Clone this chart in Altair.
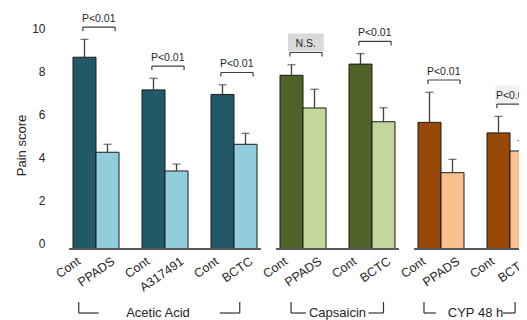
import altair as alt
import pandas as pd

# ---------------- values ----------------
groups = ["Acetic Acid", "Capsaicin", "CYP 48 h"]
pair_group = ["Acetic Acid", "Acetic Acid", "Acetic Acid",
              "Capsaicin", "Capsaicin", "CYP 48 h", "CYP 48 h"]
treatments = ["PPADS", "A317491", "BCTC", "PPADS", "BCTC", "PPADS", "BCTC"]
control_label = "Cont"
ctrl_mean = [8.92, 7.40, 7.19, 8.08, 8.60, 5.89, 5.40]
ctrl_err = [0.83, 0.54, 0.45, 0.49, 0.49, 1.40, 0.77]
trt_mean = [4.50, 3.63, 4.87, 6.56, 5.92, 3.55, 4.56]
trt_err = [0.37, 0.32, 0.51, 0.87, 0.65, 0.62, 0.48]
significance = ["P<0.01", "P<0.01", "P<0.01", "N.S.", "P<0.01", "P<0.01", "P<0.01"]
label_box = ["none", "none", "none", "dark", "none", "none", "light"]
y_ticks = [0, 2, 4, 6, 8, 10]
y_title = "Pain score"

# ---------------- styling / layout ----------------
palette = {"Acetic Acid": ("#215968", "#92CDDC"),
           "Capsaicin": ("#4F6228", "#C3D69B"),
           "CYP 48 h": ("#984807", "#FAC090")}
# group-label bracket: (left band position, right band position, segment length, text shift)
group_style = {"Acetic Acid": (0.25, 0.25, 20, -7),
               "Capsaicin": (0.48, 0.5, 15, 0),
               "CYP 48 h": (0.26, 0.22, 12, 0)}
SLOT = 23
FONT = "Liberation Sans"
INK = "#262626"
LINE = "#404040"

# ---------------- build tables ----------------
slots, bar_rows, pair_rows, group_info = [], [], [], []
for g in groups:
    lead = f"gap{len(slots)}"
    slots.append(lead)
    members = [i for i, pg in enumerate(pair_group) if pg == g]
    gslots = []
    for k, i in enumerate(members):
        if k:
            s = f"gap{len(slots)}"
            slots.append(s)
            gslots.append(s)
        c, t = f"c{i}", f"t{i}"
        slots += [c, t]
        gslots += [c, t]
        ctop = ctrl_mean[i] + ctrl_err[i]
        ttop = trt_mean[i] + trt_err[i]
        bar_rows.append(dict(slot=c, key=f"{g}|ctrl", role="ctrl",
                             mean=ctrl_mean[i], top=ctop, label=control_label))
        bar_rows.append(dict(slot=t, key=f"{g}|trt", role="trt",
                             mean=trt_mean[i], top=ttop, label=treatments[i]))
        lvl = max(ctop, ttop) + 0.57
        pair_rows.append(dict(cslot=c, tslot=t, level=lvl, tick=lvl - 0.19,
                              box_lo=lvl + 0.05, box_hi=lvl + 0.88,
                              sig=significance[i], box=label_box[i]))
    group_info.append((g, lead, gslots))
slots.append("gap_end")

base_rows = []
for g, lead, gslots in group_info:
    nxt = slots[slots.index(gslots[-1]) + 1]
    base_rows.append(dict(start=lead, end=nxt, zero=0))

bars_df = pd.DataFrame(bar_rows)
pairs_df = pd.DataFrame(pair_rows)
base_df = pd.DataFrame(base_rows)

keys, cols = [], []
for g in groups:
    keys += [f"{g}|ctrl", f"{g}|trt"]
    cols += list(palette[g])

xs = alt.Scale(domain=slots, range=[0, SLOT * len(slots)], paddingInner=0, paddingOuter=0)
ys = alt.Scale(domain=[0, 10], nice=False)

yaxis = alt.Axis(values=y_ticks, domain=False, ticks=False, grid=False,
                 labelFontSize=12, labelColor=INK, labelPadding=5, labelOffset=-5.5,
                 title=y_title, titleFontSize=13, titleFontWeight="normal", titleColor=INK,
                 titleAngle=270, titleX=-25, titleY=111, titleAlign="center",
                 titleBaseline="alphabetic")


def X(field, bp=None):
    if bp is None:
        return alt.X(f"{field}:N", scale=xs, axis=None)
    return alt.X(f"{field}:N", scale=xs, axis=None, bandPosition=bp)


def Y(field):
    return alt.Y(f"{field}:Q", scale=ys, axis=yaxis)


bars = alt.Chart(bars_df).mark_bar(stroke="#1a1a1a", strokeWidth=1).encode(
    x=X("slot"),
    y=Y("mean"),
    color=alt.Color("key:N", scale=alt.Scale(domain=keys, range=cols), legend=None),
)
err_line = alt.Chart(bars_df).mark_rule(color=LINE, strokeWidth=1.3).encode(
    x=X("slot", 0.5), y=Y("mean"), y2="top:Q")
err_cap = alt.Chart(bars_df).mark_tick(color=LINE, thickness=1.3, size=8).encode(
    x=X("slot", 0.5), y=Y("top"))

baseline = alt.Chart(base_df).mark_rule(color="#595959", strokeWidth=2).encode(
    x=X("start", 0.83), x2=alt.X2("end", bandPosition=0.17), y=Y("zero"))

ctrl_lab = alt.Chart(bars_df).transform_filter(alt.datum.role == "ctrl").mark_text(
    angle=325, align="right", baseline="middle", fontSize=12.5, color=INK).encode(
    x=X("slot", 0.26), y=alt.value(226), text="label:N")
trt_lab = alt.Chart(bars_df).transform_filter(alt.datum.role == "trt").mark_text(
    angle=325, align="right", baseline="middle", fontSize=12.5, color=INK).encode(
    x=X("slot", 0.75), y=alt.value(226), text="label:N")

box_dark = alt.Chart(pairs_df).transform_filter(alt.datum.box == "dark").mark_rect(
    color="#D9D9D9").encode(
    x=X("cslot", 0.35), x2=alt.X2("tslot", bandPosition=0.9), y=Y("box_lo"), y2="box_hi:Q")
box_light = alt.Chart(pairs_df).transform_filter(alt.datum.box == "light").mark_rect(
    color="#F2F2F2").encode(
    x=X("cslot", 0.35), x2=alt.X2("tslot", bandPosition=0.9), y=Y("box_lo"), y2="box_hi:Q")

br_h = alt.Chart(pairs_df).mark_rule(color=LINE, strokeWidth=1.2).encode(
    x=X("cslot", 0.43), x2=alt.X2("tslot", bandPosition=0.83), y=Y("level"))
br_l = alt.Chart(pairs_df).mark_rule(color=LINE, strokeWidth=1.2).encode(
    x=X("cslot", 0.43), y=Y("level"), y2="tick:Q")
br_r = alt.Chart(pairs_df).mark_rule(color=LINE, strokeWidth=1.2).encode(
    x=X("tslot", 0.83), y=Y("level"), y2="tick:Q")
br_t = alt.Chart(pairs_df).mark_text(fontSize=10.5, baseline="alphabetic", dy=-5.5,
                                     color=INK).encode(
    x=X("tslot", 0.12), y=Y("level"), text="sig:N")

layers = [bars, err_line, err_cap, baseline, ctrl_lab, trt_lab,
          box_dark, box_light, br_h, br_l, br_r, br_t]

for g, lead, gslots in group_info:
    lbp, rbp, s, shift = group_style[g]
    n = len(gslots)
    mid = n / 2
    mi = int(mid)
    bp = mid - mi
    gdf = pd.DataFrame([dict(first=gslots[0], last=gslots[-1], mid=gslots[mi], name=g)])
    layers += [
        alt.Chart(gdf).mark_rule(color="#333333", strokeWidth=1.2).encode(
            x=X("first", lbp), y=alt.value(268), y2=alt.value(279)),
        alt.Chart(gdf).mark_rule(color="#333333", strokeWidth=1.2).encode(
            x=X("last", rbp), y=alt.value(268), y2=alt.value(279)),
        alt.Chart(gdf).mark_rule(color="#333333", strokeWidth=1.2, x2Offset=s).encode(
            x=X("first", lbp), x2=alt.X2("first", bandPosition=lbp), y=alt.value(279)),
        alt.Chart(gdf).mark_rule(color="#333333", strokeWidth=1.2, xOffset=-s).encode(
            x=X("last", rbp), x2=alt.X2("last", bandPosition=rbp), y=alt.value(279)),
        alt.Chart(gdf).mark_text(fontSize=13, baseline="alphabetic", color=INK,
                                 xOffset=shift).encode(
            x=X("mid", bp), y=alt.value(283), text="name:N"),
    ]

chart = alt.layer(*layers).properties(
    width=469, height=215,
    autosize=alt.AutoSizeParams(type="none"),
    padding={"left": 42, "top": 26, "right": 0, "bottom": 71},
).configure(font=FONT).configure_view(strokeWidth=0)

chart.save("out.html", embed_options={"renderer": "svg", "actions": False})
